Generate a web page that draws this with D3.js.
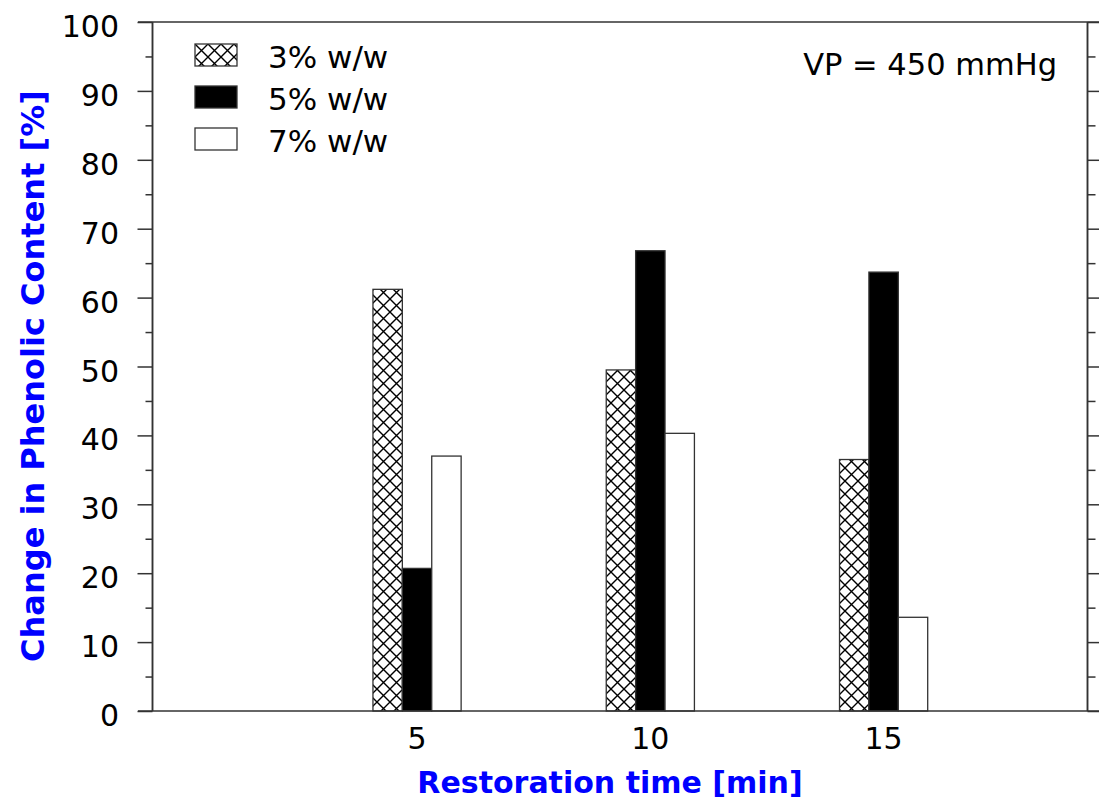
<!DOCTYPE html>
<html>
<head>
<meta charset="utf-8">
<script src="https://cdn.jsdelivr.net/npm/d3@7"></script>
<style>
  body { margin: 0; background: #fff; }
  text { font-family: "DejaVu Sans", sans-serif; }
</style>
</head>
<body>
<svg id="chart" width="1099" height="811"></svg>
<script>
// restoration times (min) and the three loadings
const times = [5, 10, 15];
const seriesNames = ['3% w/w', '5% w/w', '7% w/w'];
const values3 = [61.2, 49.5, 36.5];
const values5 = [20.7, 66.8, 63.7];
const values7 = [37.0, 40.3, 13.6];
const yTicks = d3.range(0, 101, 10);
const yMinor = d3.range(5, 100, 10);

const svg = d3.select('#chart');
const plotLeft = 152.5, plotRight = 1087.5, plotTop = 22, plotBottom = 711;
const lineColor = '#333';

const x = d3.scaleLinear().domain([-0.67, 19.37]).range([plotLeft, plotRight]);
const y = d3.scaleLinear().domain([0, 100]).range([plotBottom, plotTop]);
const barW = x(0.63) - x(0);

const defs = svg.append('defs');
const pat = defs.append('pattern')
  .attr('id', 'hatch')
  .attr('patternUnits', 'userSpaceOnUse')
  .attr('width', 13)
  .attr('height', 13);
pat.append('rect').attr('width', 13).attr('height', 13).attr('fill', '#fff');
pat.append('path')
  .attr('d', 'M-1,-1L14,14M14,-1L-1,14')
  .attr('stroke', '#000')
  .attr('stroke-width', 1.4);

const fills = ['url(#hatch)', '#000', '#fff'];
const seriesValues = [values3, values5, values7];

// bars
seriesValues.forEach((vals, s) => {
  svg.append('g').selectAll('rect')
    .data(vals)
    .enter()
    .append('rect')
    .attr('x', (d, i) => x(times[i]) + (s - 1.5) * barW)
    .attr('y', d => y(d))
    .attr('width', barW)
    .attr('height', d => y(0) - y(d))
    .attr('fill', fills[s])
    .attr('stroke', lineColor)
    .attr('stroke-width', 1.3);
});

// left axis
const gLeft = svg.append('g').attr('transform', `translate(${plotLeft},0)`);
gLeft.call(d3.axisLeft(y).tickValues(yTicks).tickSize(15).tickFormat(''));
gLeft.append('g').call(d3.axisLeft(y).tickValues(yMinor).tickSize(7).tickFormat(''));
gLeft.selectAll('.domain').attr('stroke', lineColor).attr('stroke-width', 1.5).attr('d', `M0,${plotTop}V${plotBottom}`);
gLeft.selectAll('line').attr('stroke', lineColor).attr('stroke-width', 1.5);

svg.append('g').selectAll('text')
  .data(yTicks)
  .enter()
  .append('text')
  .attr('x', 119)
  .attr('y', d => y(d) + 15)
  .attr('text-anchor', 'end')
  .attr('font-size', 30)
  .text(d => d);

// right axis
const gRight = svg.append('g').attr('transform', `translate(${plotRight},0)`);
gRight.call(d3.axisRight(y).tickValues(yTicks).tickSize(15).tickFormat(''));
gRight.append('g').call(d3.axisRight(y).tickValues(yMinor).tickSize(8).tickFormat(''));
gRight.selectAll('.domain').attr('stroke', lineColor).attr('stroke-width', 1.5).attr('d', `M0,${plotTop}V${plotBottom}`);
gRight.selectAll('line').attr('stroke', lineColor).attr('stroke-width', 1.5);

// top and bottom frame lines
[plotTop, plotBottom].forEach(yy => {
  svg.append('line')
    .attr('x1', 138).attr('x2', 1099)
    .attr('y1', yy).attr('y2', yy)
    .attr('stroke', lineColor)
    .attr('stroke-width', 1.5);
});

// x tick labels
svg.append('g').selectAll('text')
  .data(times)
  .enter()
  .append('text')
  .attr('x', d => x(d))
  .attr('y', 749)
  .attr('text-anchor', 'middle')
  .attr('font-size', 30)
  .text(d => d);

// axis titles
svg.append('text')
  .attr('x', 610)
  .attr('y', 793)
  .attr('text-anchor', 'middle')
  .attr('font-size', 30)
  .attr('font-weight', 'bold')
  .attr('fill', '#0000ff')
  .text('Restoration time [min]');

svg.append('text')
  .attr('transform', 'translate(44,376) rotate(-90)')
  .attr('text-anchor', 'middle')
  .attr('font-size', 32)
  .attr('font-weight', 'bold')
  .attr('fill', '#0000ff')
  .text('Change in Phenolic Content [%]');

// legend
const legend = svg.append('g').selectAll('g')
  .data(seriesNames)
  .enter()
  .append('g')
  .attr('transform', (d, i) => `translate(195,${44 + i * 42})`);

legend.append('rect')
  .attr('width', 42)
  .attr('height', 22)
  .attr('fill', (d, i) => fills[i])
  .attr('stroke', lineColor)
  .attr('stroke-width', 1.3);

legend.append('text')
  .attr('x', 73)
  .attr('y', 24)
  .attr('font-size', 31)
  .text(d => d);

svg.append('text')
  .attr('x', 1057)
  .attr('y', 75)
  .attr('text-anchor', 'end')
  .attr('font-size', 30.5)
  .text('VP = 450 mmHg');
</script>
</body>
</html>
